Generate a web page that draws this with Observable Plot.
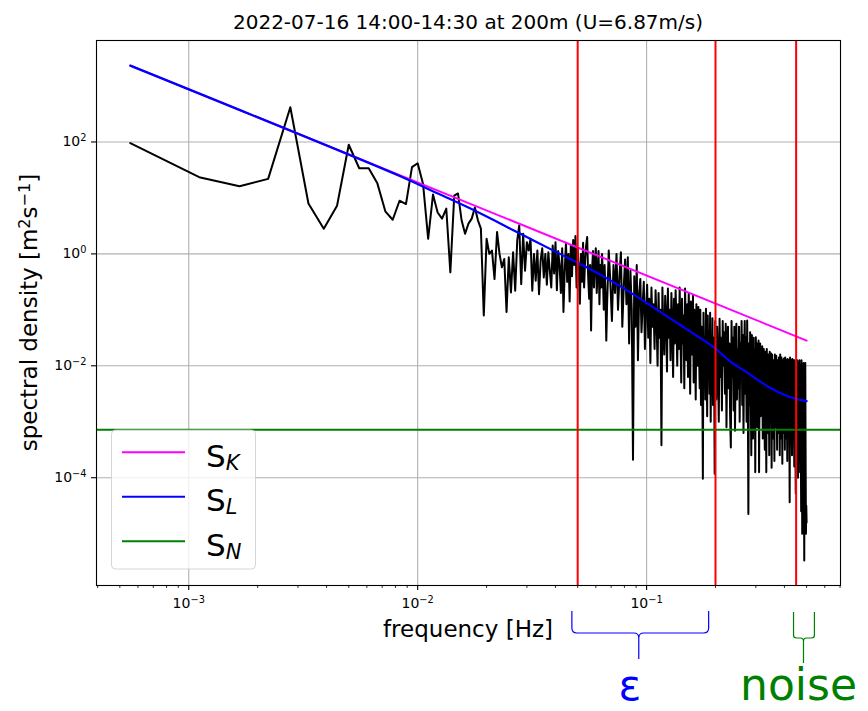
<!DOCTYPE html>
<html>
<head>
<meta charset="utf-8">
<script src="https://cdn.jsdelivr.net/npm/d3@7"></script>
<script src="https://cdn.jsdelivr.net/npm/@observablehq/plot@0.6"></script>
<style>
  body { margin: 0; background: #fff; }
  svg { display: block; }
</style>
</head>
<body>
<div id="chart"></div>
<script>
// ---------------- data ----------------
const titleText = "2022-07-16 14:00-14:30 at 200m (U=6.87m/s)";
const xLabelText = "frequency [Hz]";
const yLabelText = "spectral density [m²s⁻¹]";

// spectrum: record length 1800 s -> bins at n/1800 Hz (values are log10 of spectral density)
const recordSeconds = 1800;
const psdLowLog10 = [ // bins n = 1..120
  1.98,1.37,1.21,1.34,2.62,0.90,0.45,0.86,1.95,1.53,
  1.53,1.26,0.76,0.61,0.95,0.89,1.55,1.62,1.25,0.27,
  1.06,0.74,0.63,0.81,-0.33,1.04,1.08,0.60,0.36,0.54,
  0.63,0.83,0.60,0.45,-1.10,0.27,0.00,0.06,-0.45,0.39,
  0.00,-0.24,-0.09,-1.04,-0.06,-0.69,0.03,-0.66,0.24,0.51,
  -0.54,0.36,-0.30,0.21,0.06,0.27,-0.66,0.00,-0.48,0.06,
  -0.72,-0.12,0.10,-0.42,0.00,-0.55,0.03,-0.30,-0.60,0.15,
  -0.35,0.21,-0.65,0.05,-0.20,-0.70,0.10,-1.04,-0.30,0.20,
  -0.50,0.00,-0.85,0.15,-0.40,0.25,-0.20,0.32,-0.60,0.10,
  -0.30,-0.89,0.00,-0.50,0.20,-0.60,-0.10,0.15,0.30,-0.40,
  -0.80,-0.20,-1.37,-0.30,0.05,-0.60,-0.10,0.10,-0.70,-0.30,
  0.05,-0.90,-0.20,-0.60,0.00,-0.40,-1.00,-0.20,-0.70,-1.55
];
const psdMidFirstBin = 121, psdMidBinStep = 2;
const psdMidLog10 = [ // bins n = 121, 123, ..., 361
  -0.9,0.06,-0.5,-1.2,-0.2,-0.7,0.0,-1.0,-0.4,0.03,-1.3,-0.6,-0.1,-0.9,-0.06,
  -1.6,-0.3,-1.0,-3.68,-0.4,-1.3,-0.2,-1.9,-0.7,-0.45,-1.4,-0.9,-0.5,-1.7,-1.0,-0.55,-1.5,
  -0.8,-1.95,-0.6,-1.3,-0.9,-1.7,-0.65,-1.2,-2.0,-0.7,
  -1.5,-1.0,-3.42,-0.6,-1.4,-1.8,-0.75,-1.1,-2.1,-0.62,
  -1.5,-1.0,-1.9,-0.7,-1.3,-2.2,-0.8,-1.6,-0.65,-1.2,
  -2.0,-0.9,-1.7,
  -0.6,-1.4,-2.3,-0.8,-1.6,-1.1,-2.4,-0.62,-1.3,-1.9,
  -0.9,-2.2,-0.7,-1.5,-2.5,-0.85,-1.2,-1.8,-0.75,-2.3,
  -1.0,-1.6,-2.6,-0.9,-1.4,-2.0,-0.95,-1.7,-2.4,
  -1.0,-2.7,-1.3,-1.9,-4.02,-1.05,-2.2,-1.5,-2.6,-0.98,
  -1.8,-2.9,-1.1,-2.0,-1.4,-2.5,-1.05,-3.0,-1.6,-2.2,
  -1.15,-2.7,-1.5,-1.9,-3.93,-1.2,-2.4
];
const psdHighFirstBin = 363, psdHighBinStep = 3;
const psdHighLog10 = [ // bins n = 363, 366, ..., 900
  -2.6,-1.3,-1.9,-3.0,-1.16,-2.2,-1.5,-2.8,-1.2,-2.0,
  -1.4,-2.5,-1.25,-3.1,-1.8,-1.3,-2.4,-1.6,-2.9,-3.46,
  -1.2,-2.2,-1.5,-2.8,-1.3,-3.16,-1.9,-1.25,-2.6,-1.7,
  -2.4,-1.3,-3.0,-1.6,-2.2,-1.2,-2.7,-1.45,-3.2,-1.8,
  -1.2,-2.5,-1.5,-3.0,-1.19,-2.3,-4.65,-1.6,-2.7,-1.4,
  -2.4,-3.6,-1.45,-2.0,-3.3,-1.5,-2.6,-1.7,-3.9,-1.49,
  -2.5,-1.6,-3.1,-2.0,-1.55,-3.9,-2.2,-1.6,-2.9,-1.7,
  -2.6,-1.65,-3.3,-2.0,-1.7,-2.8,-3.5,-1.75,-2.3,-3.9,
  -1.7,-2.6,-3.2,-1.8,-2.2,-3.6,-1.75,-2.5,-3.0,-1.78,
  -3.82,-1.8,-2.6,-3.3,-1.9,-2.3,-3.7,-1.8,-2.7,-3.1,
  -1.82,-2.5,-3.5,-1.9,-2.9,-3.2,-1.85,-2.4,-3.6,-1.8,
  -2.7,-3.3,-1.85,-2.5,-3.75,-1.9,-2.8,-3.2,-1.87,-2.4,
  -3.5,-1.85,-2.9,-3.3,-1.9,-2.6,-3.7,-1.88,-2.5,-3.1,
  -1.9,-2.8,-4.44,-1.85,-2.6,-3.4,-1.9,-3.0,-3.6,-1.88,
  -2.7,-3.3,-1.9,-2.9,-3.8,-1.9,-2.5,-3.5,-4.28,-1.92,
  -2.8,-3.4,-1.9,-2.6,-4.0,-1.95,-3.1,-3.6,-1.9,-2.7,
  -3.9,-2.0,-3.3,-4.6,-1.9,-2.9,-5.0,-2.1,-3.5,-4.3,
  -1.95,-3.8,-5.48,-2.5,-4.2,-1.95,-3.6,-5.0,-4.5,-4.8
];

// S_K (Kolmogorov -5/3 line), endpoints
const skFreq = [0.0005556, 0.5];
const skValue = [2312, 0.0282];
// S_L model curve
const slFreq = [0.0005556, 0.008346, 0.01247, 0.01864, 0.02785, 0.04161, 0.05626, 0.07601,
                0.1027, 0.1389, 0.1973, 0.2295, 0.2805, 0.3428, 0.4066, 0.4495, 0.5];
const slValue = [2312, 24.6, 11.6, 5.38, 2.33, 1.01, 0.542, 0.271,
                 0.1237, 0.0550, 0.0212, 0.01241, 0.00718, 0.00414, 0.00294, 0.00257, 0.00234];
// S_N noise level
const snLevel = 7.2e-4;
// fit-band boundaries (Hz)
const bandFreqs = [0.05, 0.2, 0.45];

// axes
const xDomain = [3.954e-4, 0.7031];
const yDomain = [1.186e-6, 6501];
const xMajor = [1e-3, 1e-2, 1e-1];
const xMajorLabels = ["10⁻³", "10⁻²", "10⁻¹"];
const xMinor = [4e-4,5e-4,6e-4,7e-4,8e-4,9e-4,
                2e-3,3e-3,4e-3,5e-3,6e-3,7e-3,8e-3,9e-3,
                2e-2,3e-2,4e-2,5e-2,6e-2,7e-2,8e-2,9e-2,
                0.2,0.3,0.4,0.5,0.6,0.7];
const yMajor = [1e-4, 1e-2, 1, 1e2];
const yMajorLabels = ["10⁻⁴", "10⁻²", "10⁰", "10²"];

// legend
const legendSubs = ["K", "L", "N"];
const legendColors = ["#ff00ff", "#0000ff", "#008000"];

// annotations below the axis
const epsRange = [0.0474, 0.1876], epsTip = 0.0929, epsLabelAt = 0.0849;
const noiseRange = [0.4406, 0.5436], noiseTip = 0.487, noiseLabelAt = 0.4634;

// ---------------- build tables ----------------
const spectrum = [];
psdLowLog10.forEach((v, i) => spectrum.push({f: (i + 1) / recordSeconds, s: Math.pow(10, v)}));
psdMidLog10.forEach((v, i) => spectrum.push({f: (psdMidFirstBin + i * psdMidBinStep) / recordSeconds, s: Math.pow(10, v)}));
psdHighLog10.forEach((v, i) => spectrum.push({f: (psdHighFirstBin + i * psdHighBinStep) / recordSeconds, s: Math.pow(10, v)}));
const sk = skFreq.map((f, i) => ({f, s: skValue[i]}));
const sl = slFreq.map((f, i) => ({f, s: slValue[i]}));
const xLab = new Map(xMajor.map((d, i) => [d, xMajorLabels[i]]));
const yLab = new Map(yMajor.map((d, i) => [d, yMajorLabels[i]]));

const W = 868, H = 711, ML = 96, MR = 28, MT = 40, MB = 126;

const plot = Plot.plot({
  width: W, height: H,
  marginLeft: ML, marginRight: MR, marginTop: MT, marginBottom: MB,
  style: {fontFamily: "DejaVu Sans", background: "white", color: "black", overflow: "visible"},
  x: {type: "log", domain: xDomain},
  y: {type: "log", domain: yDomain},
  marks: [
    Plot.gridX(xMajor, {stroke: "#b0b0b0", strokeOpacity: 1, strokeWidth: 1.1}),
    Plot.gridY(yMajor, {stroke: "#b0b0b0", strokeOpacity: 1, strokeWidth: 1.1}),
    Plot.line(spectrum, {x: "f", y: "s", stroke: "black", strokeWidth: 2}),
    Plot.line(sk, {x: "f", y: "s", stroke: "#ff00ff", strokeWidth: 2}),
    Plot.line(sl, {x: "f", y: "s", stroke: "#0000ff", strokeWidth: 2.2, curve: "catmull-rom"}),
    Plot.ruleY([snLevel], {stroke: "#008000", strokeWidth: 2}),
    Plot.ruleX(bandFreqs, {stroke: "#ff0000", strokeWidth: 2}),
    Plot.frame({stroke: "black", strokeWidth: 1.1}),
    Plot.axisX(xMinor, {tickSize: 3, strokeWidth: 0.8, tickFormat: () => "", label: null}),
    Plot.axisX(xMajor, {tickSize: 5, strokeWidth: 1.1, tickPadding: 8, fontSize: 14,
                        tickFormat: d => xLab.get(d), label: null}),
    Plot.axisY(yMajor, {tickSize: 5, strokeWidth: 1.1, tickPadding: 5, fontSize: 14,
                        tickFormat: d => yLab.get(d), label: null})
  ]
});
document.getElementById("chart").appendChild(plot);

// ---------------- superscripts as raised tspans (mathtext look) ----------------
const supMap = {"⁻": "−", "⁰": "0", "¹": "1", "²": "2", "³": "3", "⁴": "4", "⁵": "5", "⁶": "6", "⁷": "7", "⁸": "8", "⁹": "9"};
function fillWithSup(textSel, str, raise) {
  // split into runs of normal / superscript characters
  const runs = [];
  for (const ch of str) {
    const isSup = ch in supMap;
    const c = isSup ? supMap[ch] : ch;
    if (runs.length && runs[runs.length - 1].sup === isSup) runs[runs.length - 1].t += c;
    else runs.push({sup: isSup, t: c});
  }
  textSel.text(null);
  let lifted = false;
  runs.forEach(r => {
    const ts = textSel.append("tspan").text(r.t);
    if (r.sup) { ts.attr("font-size", "0.7em").attr("dy", `-${raise / 0.7}em`); lifted = true; }
    else if (lifted) { ts.attr("dy", `${raise}em`); lifted = false; }
  });
}
const svg = d3.select(plot);
svg.selectAll("text").each(function () {
  const t = d3.select(this);
  const s = t.text();
  if (/^10[⁻⁰¹²³⁴]+$/.test(s)) fillWithSup(t, s, 0.4);
});

// ---------------- extra text / legend / annotations ----------------
let sx;
try { sx = plot.scale("x").apply ? (v => plot.scale("x").apply(v)) : null; } catch (e) { sx = null; }
if (!sx) { const s = d3.scaleLog().domain(xDomain).range([ML, W - MR]); sx = v => s(v); }
const cx = (ML + W - MR) / 2;

svg.append("text").attr("x", cx).attr("y", 29).attr("text-anchor", "middle")
  .attr("font-size", 20).attr("fill", "black").text(titleText);
svg.append("text").attr("x", cx).attr("y", 637).attr("text-anchor", "middle")
  .attr("font-size", 23).attr("fill", "black").text(xLabelText);
const yl = svg.append("text").attr("transform", `translate(37,${(MT + H - MB) / 2}) rotate(-90)`)
  .attr("text-anchor", "middle").attr("font-size", 23).attr("fill", "black");
fillWithSup(yl, yLabelText, 0.32);

// legend
const lg = svg.append("g");
lg.append("rect").attr("x", 111.5).attr("y", 430).attr("width", 144).attr("height", 139)
  .attr("rx", 4).attr("fill", "white").attr("fill-opacity", 0.8)
  .attr("stroke", "#cccccc").attr("stroke-opacity", 0.8).attr("stroke-width", 1);
legendSubs.forEach((sub, i) => {
  const y = 452.3 + i * 44.5;
  lg.append("line").attr("x1", 122).attr("x2", 185).attr("y1", y).attr("y2", y)
    .attr("stroke", legendColors[i]).attr("stroke-width", 2);
  const t = lg.append("text").attr("x", 206).attr("y", y + 14.4).attr("text-anchor", "start")
    .attr("font-size", 31).attr("fill", "black");
  t.append("tspan").text("S");
  t.append("tspan").attr("font-size", 21).attr("font-style", "italic").attr("dy", 3).text(sub);
});

// curly brackets under the axis
function brace(x0, x1, xc, yTop, yMid, yTip, r, color) {
  const p = `M${x0},${yTop} V${yMid - r} Q${x0},${yMid} ${x0 + r},${yMid} H${xc - r} Q${xc},${yMid} ${xc},${yMid + r} V${yTip}` +
            ` M${xc},${yMid + r} Q${xc},${yMid} ${xc + r},${yMid} H${x1 - r} Q${x1},${yMid} ${x1},${yMid - r} V${yTop}`;
  svg.append("path").attr("d", p).attr("fill", "none").attr("stroke", color).attr("stroke-width", 1.2);
}
brace(sx(epsRange[0]), sx(epsRange[1]), sx(epsTip), 611, 633, 659, 5, "#0000ff");
brace(sx(noiseRange[0]), sx(noiseRange[1]), sx(noiseTip), 612, 638, 663, 3, "#008000");
svg.append("text").attr("x", sx(epsLabelAt)).attr("y", 700).attr("text-anchor", "middle")
  .attr("font-size", 42).attr("fill", "#0000ff").text("ε");
svg.append("text").attr("x", sx(noiseLabelAt)).attr("y", 700).attr("text-anchor", "middle")
  .attr("font-size", 44).attr("fill", "#008000").text("noise");
</script>
</body>
</html>
